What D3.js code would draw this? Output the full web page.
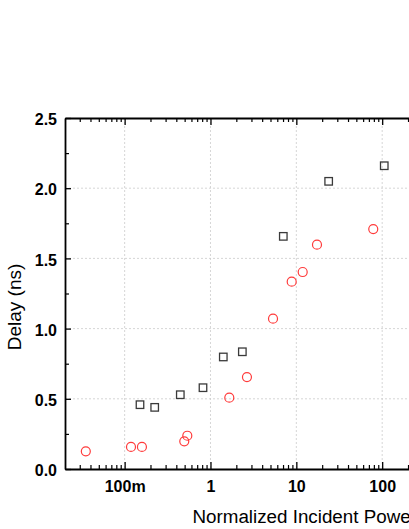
<!DOCTYPE html>
<html><head><meta charset="utf-8">
<script src="https://cdn.jsdelivr.net/npm/d3@7"></script>
<style>html,body{margin:0;padding:0;background:#fff;overflow:hidden}</style>
</head><body>
<script>
// Data
const squarePower = [0.151, 0.224, 0.445, 0.818, 1.41, 2.35, 7.05, 23.8, 105.7];
const squareDelay = [0.458, 0.439, 0.529, 0.579, 0.798, 0.835, 1.657, 2.049, 2.160];
const circlePower = [0.0353, 0.1186, 0.159, 0.495, 0.537, 1.656, 2.66, 5.35, 8.83, 11.86, 17.4, 78.7];
const circleDelay = [0.126, 0.157, 0.157, 0.197, 0.237, 0.508, 0.655, 1.071, 1.334, 1.403, 1.598, 1.709];
const xTickValues = [0.1, 1, 10, 100];
const xTickLabels = ["100m", "1", "10", "100"];
const yTickValues = [0.0, 0.5, 1.0, 1.5, 2.0, 2.5];
const yTickLabels = ["0.0", "0.5", "1.0", "1.5", "2.0", "2.5"];
const xTitle = "Normalized Incident Power";
const yTitle = "Delay (ns)";

(function () {
const W = 409, H = 529;
const pLeft = 65, pTop = 118, pBottom = 469;
const decade = 85.85;
const xMin = 0.0202, xMax = 1000;
const pRight = pLeft + Math.log10(xMax / xMin) * decade;
const FONT = "Liberation Sans, Arial, sans-serif";

const svg = d3.select("body").append("svg").attr("width", W).attr("height", H);
const x = d3.scaleLog().domain([xMin, xMax]).range([pLeft, pRight]);
const y = d3.scaleLinear().domain([0, 2.5]).range([pBottom, pTop]);

// grid
const grid = svg.append("g").attr("stroke", "#cccccc").attr("stroke-width", 0.8).attr("stroke-dasharray", "2,2");
grid.selectAll("line.v").data(xTickValues).join("line").attr("class", "v")
  .attr("x1", d => x(d)).attr("x2", d => x(d)).attr("y1", pTop).attr("y2", pBottom);
grid.selectAll("line.h").data(yTickValues.filter(v => v > 0 && v < 2.5)).join("line").attr("class", "h")
  .attr("y1", d => y(d)).attr("y2", d => y(d)).attr("x1", pLeft).attr("x2", pRight);

// minor tick values
const xMinor = [];
for (let e = -2; e <= 3; e++) for (let m = 2; m <= 9; m++) {
  const v = m * Math.pow(10, e);
  if (v > xMin && v < xMax) xMinor.push(v);
}
const yMinor = [0.25, 0.75, 1.25, 1.75, 2.25];

const fmtX = d => xTickLabels[xTickValues.indexOf(d)] || "";
const fmtY = d => yTickLabels[yTickValues.indexOf(d)] || "";

function styleAxis(g) {
  g.select(".domain").attr("stroke", "#000").attr("stroke-width", 1.8);
  g.selectAll(".tick line").attr("stroke", "#000").attr("stroke-width", 1.3);
  g.selectAll("text").attr("font-family", FONT)
    .attr("font-weight", "bold").attr("font-size", 16).attr("fill", "#000");
}
function styleMinor(g) {
  g.select(".domain").remove();
  g.selectAll("line").attr("stroke", "#000").attr("stroke-width", 1.2);
}

// bottom axis
svg.append("g").attr("transform", `translate(0,${pBottom})`)
  .call(d3.axisBottom(x).tickValues(xTickValues).tickFormat(fmtX).tickSizeInner(-7).tickSizeOuter(0).tickPadding(12))
  .call(styleAxis);
svg.append("g").attr("transform", `translate(0,${pBottom})`)
  .call(d3.axisBottom(x).tickValues(xMinor).tickFormat("").tickSizeInner(-4).tickSizeOuter(0))
  .call(styleMinor);

// top axis
svg.append("g").attr("transform", `translate(0,${pTop})`)
  .call(d3.axisTop(x).tickValues(xTickValues).tickFormat("").tickSizeInner(-7).tickSizeOuter(0))
  .call(styleAxis);
svg.append("g").attr("transform", `translate(0,${pTop})`)
  .call(d3.axisTop(x).tickValues(xMinor).tickFormat("").tickSizeInner(-4).tickSizeOuter(0))
  .call(styleMinor);

// left axis
svg.append("g").attr("transform", `translate(${pLeft},0)`)
  .call(d3.axisLeft(y).tickValues(yTickValues).tickFormat(fmtY).tickSizeInner(-6).tickSizeOuter(0).tickPadding(8))
  .call(styleAxis)
  .call(g => g.selectAll("text").attr("dy", "0.42em"));
svg.append("g").attr("transform", `translate(${pLeft},0)`)
  .call(d3.axisLeft(y).tickValues(yMinor).tickFormat("").tickSizeInner(-4).tickSizeOuter(0))
  .call(styleMinor);

// right axis
svg.append("g").attr("transform", `translate(${pRight},0)`)
  .call(d3.axisRight(y).tickValues(yTickValues).tickFormat("").tickSizeInner(-6).tickSizeOuter(0))
  .call(styleAxis);

// squares
const sq = 7.5;
svg.append("g").selectAll("rect").data(squarePower.map((p, i) => [p, squareDelay[i]])).join("rect")
  .attr("x", d => x(d[0]) - sq / 2).attr("y", d => y(d[1]) - sq / 2)
  .attr("width", sq).attr("height", sq)
  .attr("fill", "none").attr("stroke", "#3a3a3a").attr("stroke-width", 1.3);

// circles
svg.append("g").selectAll("circle").data(circlePower.map((p, i) => [p, circleDelay[i]])).join("circle")
  .attr("cx", d => x(d[0])).attr("cy", d => y(d[1])).attr("r", 4.5)
  .attr("fill", "none").attr("stroke", "#ff3b3b").attr("stroke-width", 1.2);

// titles
svg.append("text").attr("x", 192.5).attr("y", 523)
  .attr("font-family", FONT).attr("font-size", 18.8).attr("fill", "#000")
  .text(xTitle);
svg.append("text").attr("transform", "translate(21,307) rotate(-90)").attr("text-anchor", "middle")
  .attr("font-family", FONT).attr("font-size", 19).attr("fill", "#000")
  .text(yTitle);
})();
</script>
</body></html>
